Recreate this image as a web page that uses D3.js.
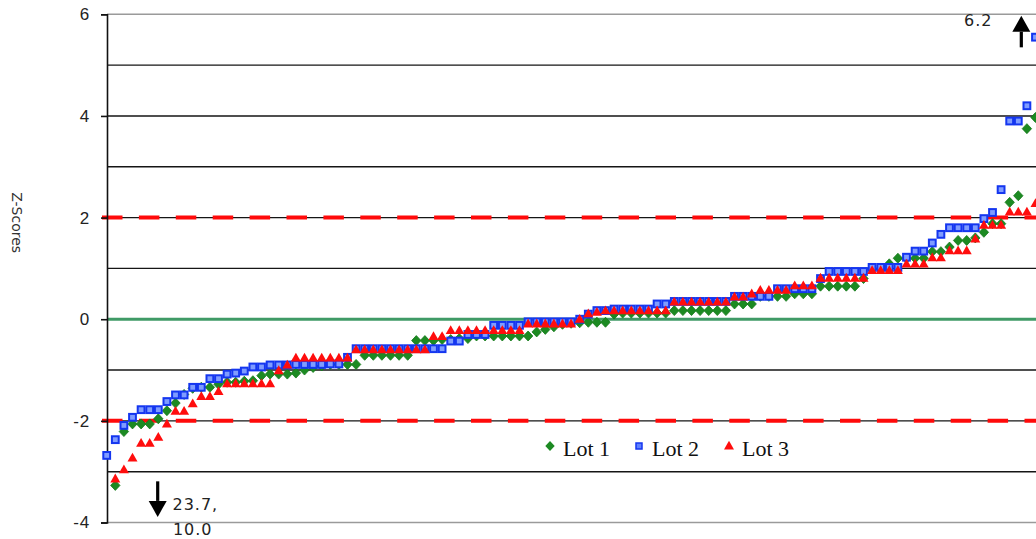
<!DOCTYPE html>
<html>
<head>
<meta charset="utf-8">
<script src="https://cdn.jsdelivr.net/npm/d3@7"></script>
<style>
  body { margin: 0; background: #fff; }
  svg { display: block; }
</style>
</head>
<body>
<svg id="chart" width="1036" height="539"></svg>
<script>
// Sorted z-scores per lot; index = rank position along the x axis.
const lot1 = [-23.7, -3.27, -2.21, -2.06, -2.06, -2.06, -1.96, -1.80, -1.65, -1.48,
  -1.36, -1.34, -1.34, -1.28, -1.24, -1.24, -1.22, -1.21, -1.11, -1.08,
  -1.08, -1.08, -1.06, -1.00, -0.95, -0.92, -0.89, -0.89, -0.89, -0.89,
  -0.71, -0.71, -0.71, -0.71, -0.71, -0.71, -0.42, -0.42, -0.42, -0.40,
  -0.40, -0.38, -0.38, -0.33, -0.33, -0.33, -0.33, -0.33, -0.33, -0.33,
  -0.25, -0.20, -0.15, -0.10, -0.08, -0.07, -0.06, -0.06, -0.06, 0.10,
  0.12, 0.12, 0.12, 0.12, 0.12, 0.12, 0.17, 0.17, 0.17, 0.17,
  0.17, 0.17, 0.17, 0.30, 0.30, 0.30, 0.45, 0.45, 0.45, 0.45,
  0.50, 0.50, 0.50, 0.65, 0.65, 0.65, 0.65, 0.65, 0.80, 0.99,
  0.99, 1.09, 1.20, 1.20, 1.20, 1.20, 1.33, 1.33, 1.42, 1.55,
  1.55, 1.60, 1.71, 1.88, 1.88, 2.30, 2.43, 3.75, 3.97];

const lot2 = [-2.68, -2.37, -2.09, -1.93, -1.78, -1.78, -1.78, -1.62, -1.49, -1.49,
  -1.34, -1.34, -1.17, -1.17, -1.08, -1.06, -1.02, -0.94, -0.94, -0.90,
  -0.90, -0.90, -0.89, -0.89, -0.89, -0.89, -0.88, -0.88, -0.75, -0.58,
  -0.58, -0.58, -0.58, -0.58, -0.58, -0.58, -0.58, -0.58, -0.58, -0.58,
  -0.43, -0.43, -0.30, -0.30, -0.30, -0.12, -0.12, -0.12, -0.12, -0.05,
  -0.05, -0.05, -0.05, -0.05, -0.05, 0.00, 0.10, 0.17, 0.17, 0.20,
  0.20, 0.20, 0.20, 0.20, 0.30, 0.30, 0.35, 0.35, 0.35, 0.35,
  0.35, 0.35, 0.35, 0.45, 0.45, 0.45, 0.45, 0.45, 0.60, 0.60,
  0.60, 0.60, 0.60, 0.80, 0.94, 0.94, 0.94, 0.94, 0.94, 1.02,
  1.02, 1.02, 1.02, 1.22, 1.34, 1.34, 1.50, 1.67, 1.80, 1.80,
  1.80, 1.80, 1.98, 2.10, 2.55, 3.90, 3.90, 4.20, 5.55, 6.2];

const lot3 = [-10.0, -3.14, -2.96, -2.73, -2.44, -2.44, -2.32, -2.06, -1.81, -1.81,
  -1.66, -1.52, -1.52, -1.42, -1.27, -1.27, -1.27, -1.27, -1.27, -1.27,
  -1.01, -0.90, -0.76, -0.76, -0.76, -0.76, -0.76, -0.76, -0.76, -0.60,
  -0.60, -0.60, -0.60, -0.60, -0.60, -0.60, -0.60, -0.60, -0.34, -0.34,
  -0.22, -0.22, -0.22, -0.22, -0.22, -0.22, -0.22, -0.22, -0.22, -0.09,
  -0.09, -0.09, -0.09, -0.09, -0.09, 0.00, 0.11, 0.14, 0.17, 0.17,
  0.17, 0.17, 0.17, 0.17, 0.17, 0.17, 0.34, 0.34, 0.34, 0.34,
  0.34, 0.34, 0.34, 0.44, 0.44, 0.50, 0.57, 0.57, 0.57, 0.57,
  0.66, 0.66, 0.66, 0.81, 0.81, 0.81, 0.81, 0.81, 0.81, 0.96,
  0.96, 0.96, 0.96, 1.09, 1.09, 1.09, 1.21, 1.21, 1.35, 1.35,
  1.35, 1.58, 1.85, 1.85, 1.85, 2.11, 2.11, 2.11, 2.28];

const seriesNames = ["Lot 1", "Lot 2", "Lot 3"];
const yTickValues = [-4, -2, 0, 2, 4, 6];
const gridValues = [-3, -2, -1, 1, 2, 3, 4, 5];
const limitValues = [2, -2];
const yAxisTitle = "Z-Scores";
const highNote = "6.2";
const lowNotes = ["23.7,", "10.0"];

const W = 1036, H = 539;
const svg = d3.select("#chart");

const y = d3.scaleLinear().domain([-4, 6]).range([522.5, 14.3]);
const x = d3.scaleLinear().domain([0, 100]).range([106.7, 966.7]);
const left = 107, right = W;

// clip marks to the plotting area
svg.append("defs").append("clipPath").attr("id", "plotClip")
  .append("rect").attr("x", 98).attr("y", y(6) - 6)
  .attr("width", right - 98).attr("height", y(-4) - y(6) + 8);

// frame lines at top and bottom of the value range
svg.append("g").selectAll("line").data([6, -4]).join("line")
  .attr("x1", left).attr("x2", right)
  .attr("y1", d => y(d)).attr("y2", d => y(d))
  .attr("stroke", "#9a9a9a").attr("stroke-width", 1.6);

// horizontal gridlines
svg.append("g").selectAll("line").data(gridValues).join("line")
  .attr("x1", left).attr("x2", right)
  .attr("y1", d => y(d)).attr("y2", d => y(d))
  .attr("stroke", "#151515").attr("stroke-width", 1.4);

// zero line
svg.append("line")
  .attr("x1", left).attr("x2", right)
  .attr("y1", y(0)).attr("y2", y(0))
  .attr("stroke", "#3f9a66").attr("stroke-width", 3);

// +/-2 limit lines
svg.append("g").selectAll("line").data(limitValues).join("line")
  .attr("x1", 102).attr("x2", right)
  .attr("y1", d => y(d)).attr("y2", d => y(d))
  .attr("stroke", "#ff0a0a").attr("stroke-width", 4)
  .attr("stroke-dasharray", "20.5,16.4");

// y axis (plain hyphen for negatives)
const axis = d3.axisLeft(y).tickValues(yTickValues).tickSize(6).tickPadding(11)
  .tickFormat(d => String(d));
const gAxis = svg.append("g").attr("transform", `translate(${left},0)`).call(axis);
gAxis.select(".domain").attr("stroke", "#111").attr("stroke-width", 1.6);
gAxis.selectAll(".tick line").attr("stroke", "#111").attr("stroke-width", 1.6);
gAxis.selectAll(".tick text")
  .attr("font-family", "Liberation Sans, Arial, sans-serif").attr("font-size", 17)
  .attr("letter-spacing", 0.8).attr("fill", "#222");

// axis title
svg.append("text")
  .attr("transform", `translate(12,${y(1.9)}) rotate(90)`)
  .attr("text-anchor", "middle")
  .attr("font-family", "DejaVu Sans, sans-serif").attr("font-size", 14)
  .attr("fill", "#333")
  .text(yAxisTitle);

// markers
const diamond = "M0,-5L4.7,0L0,5L-4.7,0Z";
const triangle = "M0,-5.2L5,3.6L-5,3.6Z";

const marks = svg.append("g").attr("clip-path", "url(#plotClip)");

marks.append("g").selectAll("path").data(lot1).join("path")
  .attr("d", diamond)
  .attr("transform", (d, i) => `translate(${x(i)},${y(d)})`)
  .attr("fill", "#1c8a22").attr("stroke", "#157a1a").attr("stroke-width", 0.8);

marks.append("g").selectAll("rect").data(lot2).join("rect")
  .attr("x", (d, i) => x(i) - 3.4).attr("y", d => y(d) - 3.4)
  .attr("width", 6.8).attr("height", 6.8)
  .attr("fill", "#7f9cff").attr("stroke", "#1436f0").attr("stroke-width", 2);

marks.append("g").selectAll("path").data(lot3).join("path")
  .attr("d", triangle)
  .attr("transform", (d, i) => `translate(${x(i)},${y(d)})`)
  .attr("fill", "#ff0d0d");

// legend
const legend = svg.append("g").attr("font-family", "Liberation Serif, serif")
  .attr("font-size", 22).attr("fill", "#111");
const legendX = [550, 639, 729];
const legendY = 446;
legend.append("path").attr("d", diamond)
  .attr("transform", `translate(${legendX[0]},${legendY})`).attr("fill", "#1c8a22");
legend.append("rect").attr("x", legendX[1] - 3).attr("y", legendY - 3)
  .attr("width", 6).attr("height", 6)
  .attr("fill", "#5f80ff").attr("stroke", "#1436f0").attr("stroke-width", 1.5);
legend.append("path").attr("d", triangle)
  .attr("transform", `translate(${legendX[2]},${legendY})`).attr("fill", "#ff0d0d");
seriesNames.forEach((name, k) => {
  legend.append("text").attr("x", legendX[k] + 13).attr("y", legendY + 10).text(name);
});

// off-scale notes
const noteFont = g => g.attr("font-family", "DejaVu Sans, sans-serif")
  .attr("font-size", 16).attr("letter-spacing", 1).attr("fill", "#222");

function arrow(cx, yTail, yTip) {
  const dir = yTip < yTail ? -1 : 1;
  const headLen = 16, headHalf = 9;
  svg.append("line").attr("x1", cx).attr("x2", cx)
    .attr("y1", yTail).attr("y2", yTip - dir * headLen)
    .attr("stroke", "#000").attr("stroke-width", 3.2);
  svg.append("path")
    .attr("d", `M${cx},${yTip}L${cx - headHalf},${yTip - dir * headLen}L${cx + headHalf},${yTip - dir * headLen}Z`)
    .attr("fill", "#000");
}

arrow(x(106.35), y(5.35), y(5.97));
svg.append("text").call(noteFont)
  .attr("x", x(103)).attr("y", y(5.76)).attr("text-anchor", "end").text(highNote);

arrow(x(5.93), y(-3.19), y(-3.89));
svg.append("text").call(noteFont)
  .attr("x", x(7.65)).attr("y", y(-3.75)).text(lowNotes[0]);
svg.append("text").call(noteFont)
  .attr("x", x(7.7)).attr("y", y(-4.25)).text(lowNotes[1]);
</script>
</body>
</html>
